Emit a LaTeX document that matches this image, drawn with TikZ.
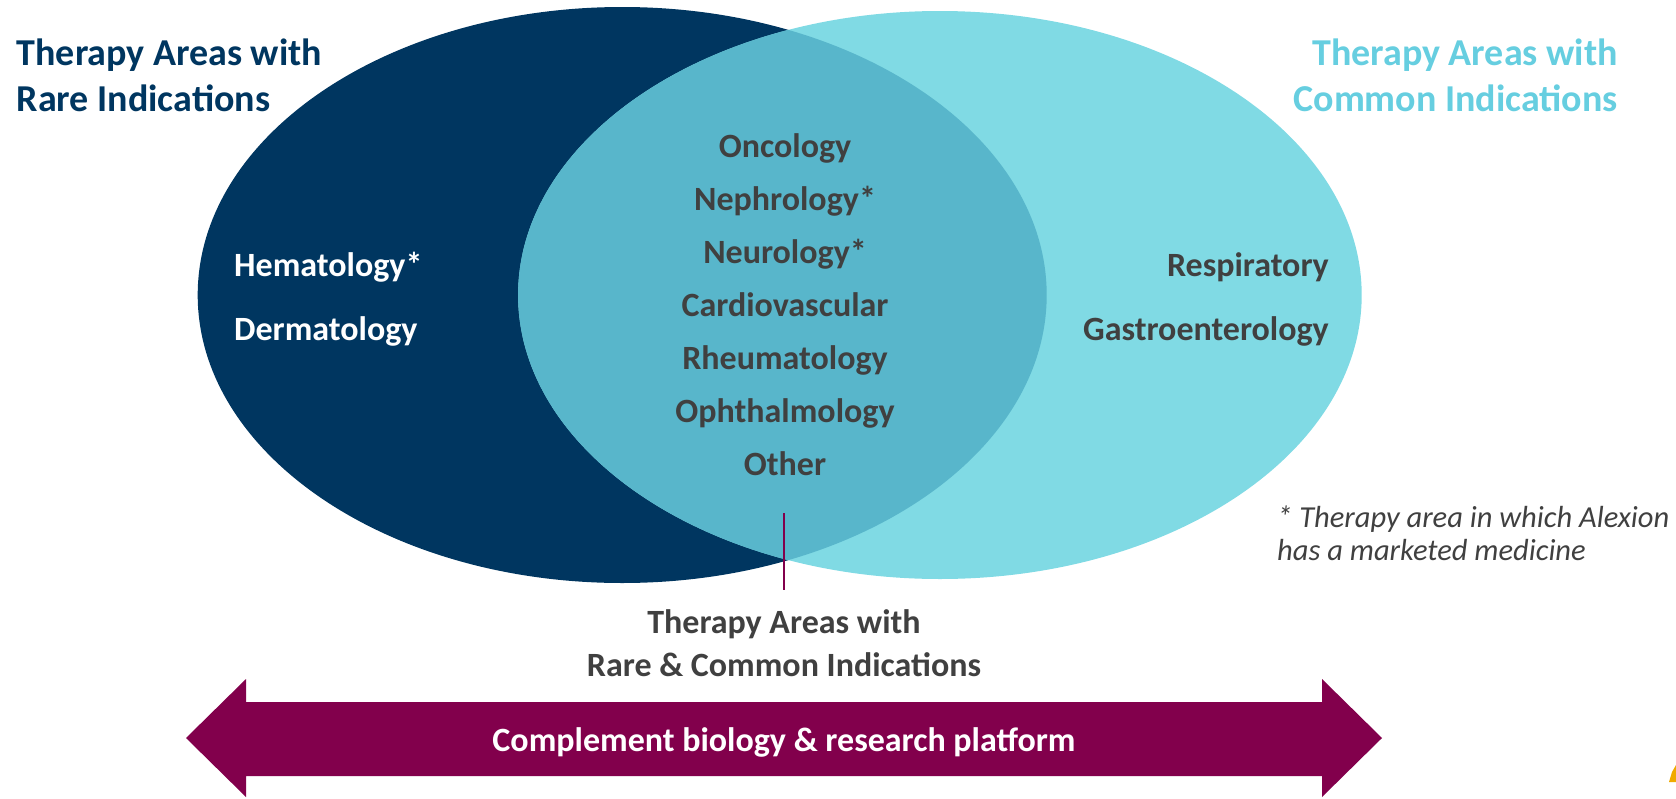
\documentclass[tikz,border=0pt]{standalone}
\usepackage{fontspec}
\setmainfont{Carlito}
\definecolor{navy}{RGB}{0,54,96}
\definecolor{lcyan}{RGB}{128,218,228}
\definecolor{ovl}{RGB}{88,182,203}
\definecolor{rtitle}{RGB}{102,206,224}
\definecolor{txtgray}{RGB}{64,64,64}
\definecolor{maroon}{RGB}{130,0,76}
\definecolor{logoorange}{RGB}{240,170,0}
\begin{document}
\begin{tikzpicture}[x=1pt,y=-1pt,
  every node/.style={inner sep=0pt},
  ltitle/.style={font=\fontsize{38}{46}\bfseries\selectfont, text=navy, anchor=base west},
  rtitlestyle/.style={font=\fontsize{38}{46}\bfseries\selectfont, text=rtitle, anchor=base east},
  citem/.style={font=\fontsize{34}{40}\bfseries\selectfont, text=txtgray, anchor=base},
  litem/.style={font=\fontsize{34}{40}\bfseries\selectfont, text=white, anchor=base west},
  ritem/.style={font=\fontsize{34}{40}\bfseries\selectfont, text=txtgray, anchor=base east},
  blabel/.style={font=\fontsize{34}{40}\bfseries\selectfont, text=txtgray, anchor=base},
  fnote/.style={font=\fontsize{30.5}{36}\itshape\selectfont, text=txtgray, anchor=base west},
  arrowtext/.style={font=\fontsize{34}{40}\bfseries\selectfont, text=white, anchor=base}]
\useasboundingbox (0,0) rectangle (1676,798);
% ellipses
\fill[navy] (622.2,295) ellipse [x radius=424.5pt, y radius=288pt];
\fill[lcyan] (939.9,295) ellipse [x radius=421.8pt, y radius=284pt];
\begin{scope}
  \clip (622.2,295) ellipse [x radius=424.5pt, y radius=288pt];
  \fill[ovl] (939.9,295) ellipse [x radius=421.8pt, y radius=284pt];
\end{scope}
% titles
\node[ltitle] (tl1) at (16.5,65) {Therapy Areas with};
\node[ltitle] (tl2) at (16.5,111) {Rare Indications};
\node[rtitlestyle] (tr1) at (1618,65) {Therapy Areas with};
\node[rtitlestyle] (tr2) at (1618,111) {Common Indications};
% center list
\node[citem] (c1) at (785,157) {Oncology};
\node[citem] (c2) at (785,210) {Nephrology*};
\node[citem] (c3) at (785,263) {Neurology*};
\node[citem] (c4) at (785,316) {Cardiovascular};
\node[citem] (c5) at (785,369) {Rheumatology};
\node[citem] (c6) at (785,422) {Ophthalmology};
\node[citem] (c7) at (785,475) {Other};
% left list
\node[litem] (l1) at (234,276) {Hematology*};
\node[litem] (l2) at (234,340) {Dermatology};
% right list
\node[ritem] (r1) at (1329,276) {Respiratory};
\node[ritem] (r2) at (1329,340) {Gastroenterology};
% bottom label
\node[blabel] (b1) at (784,633) {Therapy Areas with};
\node[blabel] (b2) at (784,676) {Rare \& Common Indications};
\coordinate (ltop) at (784,513);
\coordinate (lbot) at (784,590);
\draw[maroon, line width=2pt] (ltop) -- (lbot);
% footnote
\node[fnote] (f1) at (1277,527) {* Therapy area in which Alexion};
\node[fnote] (f2) at (1277,560) {has a marketed medicine};
% double arrow
\fill[maroon] (186,738) -- (246,679) -- (246,702) -- (1322,702) -- (1322,679)
  -- (1382,738) -- (1322,797) -- (1322,776) -- (246,776) -- (246,797) -- cycle;
\node[arrowtext] (at) at (784,751) {Complement biology \& research platform};
% logo fragment
\fill[logoorange] (1669,782) -- (1672,772) -- (1676,765) -- (1676,782) -- cycle;
\end{tikzpicture}
\end{document}
